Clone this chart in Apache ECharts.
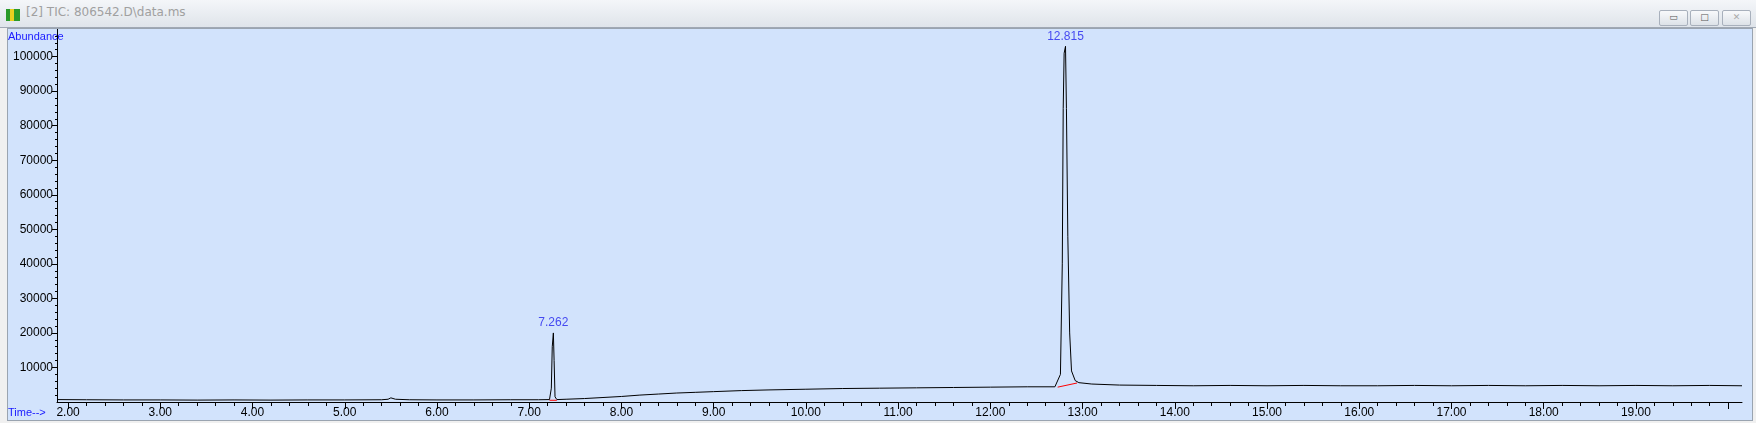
<!DOCTYPE html>
<html>
<head>
<meta charset="utf-8">
<script src="https://cdn.jsdelivr.net/npm/echarts@6/dist/echarts.min.js"></script>
<style>
  body { margin: 0; width: 1756px; height: 423px; background: #f0f0f0; overflow: hidden; font-family: "DejaVu Sans", sans-serif; }
  #titlebar { position: absolute; left: 0; top: 0; width: 1756px; height: 27px;
    background: linear-gradient(#f4f6f9, #dfe4ea); border-bottom: 1px solid #a0a8b4; }
  #titlebar .ttl { position: absolute; left: 26px; top: 5px; font-size: 12px; color: #a0a0a0; }
  #titlebar .ico { position: absolute; left: 6px; top: 9px; width: 14px; height: 12px;
    background: linear-gradient(90deg, #2a9a2a 30%, #e8d020 30%, #e8d020 60%, #2a9a2a 60%); }
  .btn { position: absolute; top: 10px; width: 27px; height: 14px; border: 1px solid #a8b0bc; border-radius: 2px;
    background: linear-gradient(#f8f9fb, #dde2e8); font-size: 9px; text-align: center; line-height: 13px; color: #555; }
  #chart { position: absolute; left: 7px; top: 28px; width: 1744px; height: 391px; border: 1px solid #9aa4b0; }
</style>
</head>
<body>
<div id="titlebar">
  <div class="ico"></div>
  <div class="ttl">[2] TIC: 806542.D\data.ms</div>
  <div class="btn" style="left:1659px">&#9645;</div>
  <div class="btn" style="left:1690px">&#9633;</div>
  <div class="btn" style="left:1722px;color:#aaa">&#10005;</div>
</div>
<div id="chart"></div>
<script>
// retention time (min) and abundance
const times = [1.88, 2.2, 2.6, 3.0, 3.4, 3.8, 4.2, 4.6, 5.0, 5.4, 5.47, 5.5, 5.55, 5.7, 6.0, 6.4, 6.8, 7.1, 7.22,
  7.24, 7.25, 7.262, 7.27, 7.28, 7.30, 7.4, 7.6, 7.8, 8.0, 8.2, 8.4, 8.6, 8.8, 9.0, 9.3, 9.6, 10.0, 10.4, 10.8,
  11.2, 11.6, 12.0, 12.4, 12.7, 12.76, 12.78, 12.79, 12.80, 12.815, 12.825, 12.84, 12.86, 12.88, 12.92, 12.96,
  13.1, 13.4, 13.8, 14.2, 14.6, 15.0, 15.4, 15.8, 16.2, 16.6, 17.0, 17.4, 17.8, 18.2, 18.6, 19.0, 19.4, 19.8, 20.15];
const abundance = [700, 650, 600, 600, 550, 600, 550, 600, 600, 650, 800, 1200, 800, 650, 600, 600, 650, 650, 700,
  4000, 16000, 20000, 12000, 1500, 700, 800, 1000, 1300, 1600, 2000, 2300, 2600, 2800, 3000, 3300, 3500, 3700, 3900, 4000,
  4100, 4200, 4300, 4400, 4400, 8000, 40000, 85000, 101000, 103000, 85000, 48000, 20000, 9000, 6200, 5600,
  5200, 4900, 4800, 4700, 4800, 4700, 4800, 4700, 4700, 4800, 4700, 4800, 4700, 4800, 4700, 4800, 4700, 4800, 4700];
const peakLabels = [[7.262, 20000, '7.262'], [12.815, 103000, '12.815']];
const baselines = [[[7.22, 500], [7.30, 500]], [[12.73, 4300], [12.94, 5500]]];
const yMajor = [10000, 20000, 30000, 40000, 50000, 60000, 70000, 80000, 90000, 100000];
const xMajor = [2, 3, 4, 5, 6, 7, 8, 9, 10, 11, 12, 13, 14, 15, 16, 17, 18, 19, 20];
const xLabels = ['2.00', '3.00', '4.00', '5.00', '6.00', '7.00', '8.00', '9.00', '10.00', '11.00', '12.00',
  '13.00', '14.00', '15.00', '16.00', '17.00', '18.00', '19.00', ''];

const xMinor = [];
for (let v = 2; v <= 20.001; v += 0.2) xMinor.push(+v.toFixed(1));
const yMinor = [];
for (let v = 2000; v <= 106000; v += 2000) yMinor.push(v);

const chart = echarts.init(document.getElementById('chart'));
const lineStyle = { color: '#000', width: 1 };
const baseAxis = (min, max, show) => ({
  type: 'value', min: min, max: max, splitLine: { show: false },
  axisLine: { show: show, lineStyle: { color: '#000' } }
});
const xa0 = Object.assign(baseAxis(1.88, 20.15, true), {
  axisTick: { customValues: xMajor, length: 7, lineStyle: lineStyle },
  axisLabel: { customValues: xMajor, formatter: v => xLabels[xMajor.indexOf(v)] || '', color: '#000',
    fontSize: 12, fontFamily: 'Liberation Sans', margin: 5 }
});
const xa1 = Object.assign(baseAxis(1.88, 20.15, false), {
  axisTick: { customValues: xMinor, length: 4, lineStyle: lineStyle }, axisLabel: { show: false }
});
const ya0 = Object.assign(baseAxis(0, 108000, true), {
  axisTick: { customValues: yMajor, length: 5, lineStyle: lineStyle },
  axisLabel: { customValues: yMajor, formatter: v => String(v), color: '#000', fontSize: 12,
    fontFamily: 'Liberation Sans', margin: 4 }
});
const ya1 = Object.assign(baseAxis(0, 108000, false), {
  axisTick: { customValues: yMinor, length: 2, lineStyle: lineStyle }, axisLabel: { show: false }
});
xa1.position = 'bottom'; ya1.position = 'left';

chart.setOption({
  backgroundColor: '#d2e3fc',
  animation: false,
  grid: { left: 49, right: 10, top: 0, bottom: 18 },
  xAxis: [xa0, xa1],
  yAxis: [ya0, ya1],
  graphic: [
    { type: 'text', left: 0, top: 2, style: { text: 'Abundance', fill: '#1a1aff', font: '11px "Liberation Sans"' } },
    { type: 'text', left: 0, bottom: 2, style: { text: 'Time-->', fill: '#1a1aff', font: '11px "Liberation Sans"' } }
  ],
  series: [
    { type: 'line', data: times.map((t, i) => [t, abundance[i]]), symbol: 'none',
      lineStyle: { color: '#000', width: 1 }, z: 3 },
    { type: 'scatter', data: peakLabels.map(p => [p[0], p[1], p[2]]), symbolSize: 0,
      label: { show: true, position: 'top', formatter: p => p.data[2], color: '#2222ee',
        fontSize: 12, fontFamily: 'Liberation Sans', distance: 4 } },
    ...baselines.map(b => ({ type: 'line', data: b, symbol: 'none', lineStyle: { color: '#ff0000', width: 1 }, z: 4 }))
  ]
});
</script>
</body>
</html>
